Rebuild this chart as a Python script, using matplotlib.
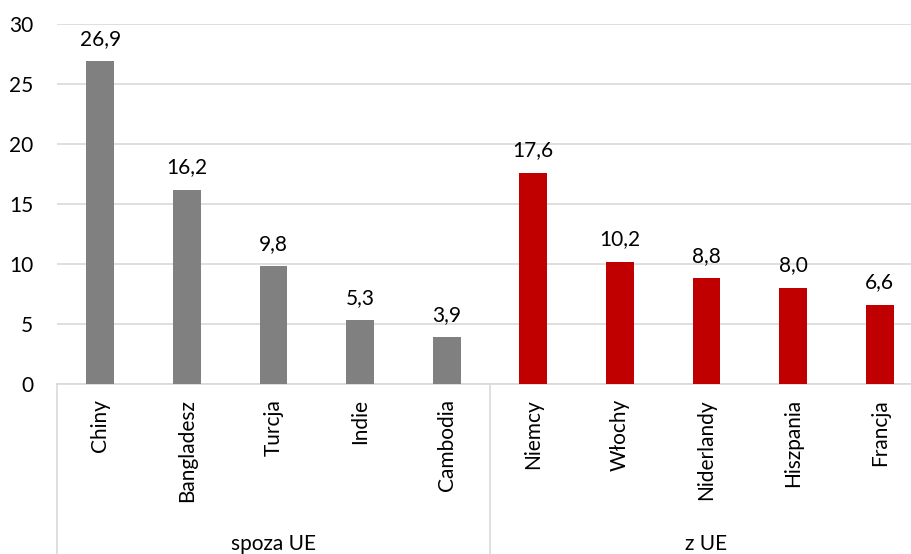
import numpy as np
import matplotlib.pyplot as plt
from matplotlib.transforms import blended_transform_factory, offset_copy

plt.rcParams['font.family'] = ['Lato', 'DejaVu Sans']

# kraje pochodzenia i udzialy (%)
countries = ['Chiny', 'Bangladesz', 'Turcja', 'Indie', 'Cambodia',
             'Niemcy', 'Włochy', 'Niderlandy', 'Hiszpania', 'Francja']
values = [26.9, 16.2, 9.8, 5.3, 3.9, 17.6, 10.2, 8.8, 8.0, 6.6]
groups = ['spoza UE', 'z UE']
group_sizes = [5, 5]
group_colors = ['#808080', '#C00000']
yticks = [0, 5, 10, 15, 20, 25, 30]

fig = plt.figure(figsize=(9.12, 5.54), dpi=100)
ax = fig.add_axes([57 / 912, 170 / 554, 866 / 912, 360 / 554])

colors = []
for g, n in enumerate(group_sizes):
    colors += [group_colors[g]] * n

x = np.arange(len(countries))
bars = ax.bar(x, values, width=0.32, color=colors, zorder=3)

for b, v in zip(bars, values):
    ax.annotate(f'{v:.1f}'.replace('.', ','),
                (b.get_x() + b.get_width() / 2, v),
                xytext=(0, 9), textcoords='offset points',
                ha='center', va='bottom', fontsize=15, color='#000000')

ax.set_xlim(-0.5, len(countries) - 0.5)
ax.set_ylim(0, 30)
ax.set_yticks(yticks)
ax.tick_params(axis='y', length=0, labelsize=15, pad=17)
ax.set_xticks([])
ax.grid(axis='y', color='#D9D9D9', linewidth=1.2, zorder=0)
for s in ['left', 'right', 'top']:
    ax.spines[s].set_visible(False)
ax.spines['bottom'].set_color('#D9D9D9')
ax.spines['bottom'].set_linewidth(1.2)

# etykiety kategorii i grup pod osia
trans = blended_transform_factory(ax.transData, ax.transAxes)
for xi, name in zip(x, countries):
    ax.text(xi, 0, name, rotation=90, ha='center', va='top', fontsize=15,
            transform=offset_copy(trans, fig=fig, y=-15, units='dots'))

start = -0.5
for name, n in zip(groups, group_sizes):
    ax.plot([start, start], [0, -0.6], color='#D9D9D9', linewidth=1.2,
            transform=trans, clip_on=False)
    ax.text(start + n / 2, 0, name, ha='center', va='center', fontsize=15,
            transform=offset_copy(trans, fig=fig, y=-160, units='dots'))
    start += n
ax.plot([start, start], [0, -0.6], color='#D9D9D9', linewidth=1.2,
        transform=trans, clip_on=False)

fig.savefig('out.png', dpi=100)
